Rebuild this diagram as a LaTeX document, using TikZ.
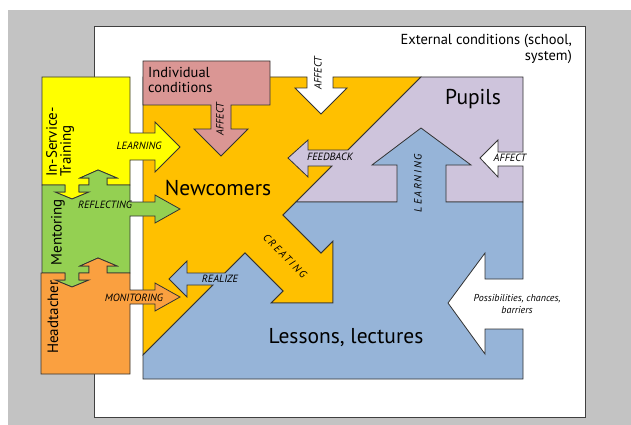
\documentclass[tikz,border=0pt]{standalone}
\usepackage{fontspec}
\setmainfont{PT Sans}
\definecolor{bggray}{RGB}{195,195,195}
\definecolor{newcorange}{RGB}{255,192,0}
\definecolor{indivpink}{RGB}{218,150,148}
\definecolor{pupilpurple}{RGB}{206,196,220}
\definecolor{lessonblue}{RGB}{150,180,216}
\definecolor{trainyellow}{RGB}{255,255,0}
\definecolor{mentorgreen}{RGB}{148,208,82}
\definecolor{headorange}{RGB}{250,160,64}

\begin{document}
\begin{tikzpicture}[x=1pt, y=-1pt,
    region/.style={draw=black!80, line width=0.8pt, line join=miter},
    tag/.style={font=\fontsize{10.5}{12}\selectfont\itshape, inner sep=0pt},
    spaced/.style={font=\fontsize{10.5}{12}\selectfont\itshape\addfontfeatures{LetterSpace=18}, inner sep=0pt},
    title/.style={font=\fontsize{21.5}{25}\selectfont, inner sep=0pt},
    boxtext/.style={font=\fontsize{14.5}{15.5}\selectfont, inner sep=0pt}]

    % Page and frame of external conditions
    \useasboundingbox (0,0) rectangle (631,425);
    \fill[white] (0,0) rectangle (631,425);
    \fill[bggray] (8,10) rectangle (631,425);
    \draw[fill=white, draw=black!75, line width=1pt] (94,27) rectangle (585,417);
    \node[boxtext, anchor=north east, align=right] (external) at (572,34) {External conditions (school,\\system)};

    % Newcomers (with the creating arrow)
    \draw[region, fill=newcorange] (143,77) -- (307,77) -- (307,88) -- (295,88) -- (321,114) -- (347,88) -- (333,88) -- (333,77)
        -- (421,77) -- (283,215) -- (321,253) -- (333,241) -- (333,303) -- (271,303) -- (283,291) -- (245,253) -- (143,355) -- cycle;

    % Pupils (with the feedback arrow)
    \draw[region, fill=pupilpurple] (421,77) -- (523,77) -- (523,152) -- (498,152) -- (498,140) -- (480,158) -- (498,177) -- (498,166)
        -- (523,166) -- (523,202) -- (296,202) -- (332,166) -- (308,166) -- (308,177) -- (288,158) -- (308,140) -- (308,150) -- (348,150) -- cycle;

    % Lessons, lectures (with learning and realize arrows)
    \draw[region, fill=lessonblue] (296,202) -- (397,202) -- (397,165) -- (372,165) -- (421,128) -- (471,165) -- (446,165) -- (446,202)
        -- (523,202) -- (523,279) -- (485,279) -- (485,253) -- (448,303) -- (485,354) -- (485,329) -- (523,329) -- (523,379)
        -- (143,379) -- (143,355) -- (213,285) -- (187,285) -- (187,297) -- (169,279) -- (187,261) -- (187,273) -- (225,273)
        -- (245,253) -- (283,291) -- (271,303) -- (333,303) -- (333,241) -- (321,253) -- (283,215) -- cycle;

    % Individual conditions
    \draw[region, fill=indivpink] (143,61) -- (270,61) -- (270,105) -- (231,105) -- (231,129) -- (248,129) -- (221,156)
        -- (194,129) -- (211,129) -- (211,105) -- (143,105) -- cycle;
    \node[boxtext, anchor=north west, align=left] (indiv) at (148,67) {Individual\\conditions};

    % In-Service-Training
    \draw[region, fill=trainyellow] (42,77) -- (130,77) -- (130,133) -- (155,133) -- (155,122) -- (180,147) -- (155,172) -- (155,160)
        -- (130,160) -- (130,185) -- (107,185) -- (107,178) -- (117,178) -- (98,170) -- (80,178) -- (89,178) -- (89,185)
        -- (79,185) -- (79,192) -- (89,192) -- (72,199) -- (55,192) -- (65,192) -- (65,185) -- (42,185) -- cycle;

    % Mentoring
    \draw[region, fill=mentorgreen] (42,185) -- (65,185) -- (65,192) -- (55,192) -- (72,199) -- (89,192) -- (79,192) -- (79,185)
        -- (89,185) -- (89,178) -- (80,178) -- (98,170) -- (117,178) -- (107,178) -- (107,185) -- (130,185)
        -- (130,202) -- (155,202) -- (155,195) -- (180,209) -- (155,223) -- (155,216) -- (130,216) -- (130,273)
        -- (107,273) -- (107,266) -- (117,266) -- (98,258) -- (80,266) -- (89,266) -- (89,273)
        -- (79,273) -- (79,280) -- (89,280) -- (72,287) -- (55,280) -- (65,280) -- (65,273) -- (42,273) -- cycle;

    % Headtacher
    \draw[region, fill=headorange] (41,273) -- (65,273) -- (65,280) -- (55,280) -- (72,287) -- (89,280) -- (79,280) -- (79,273)
        -- (89,273) -- (89,266) -- (80,266) -- (98,258) -- (117,266) -- (107,266) -- (107,273) -- (130,273)
        -- (130,290) -- (155,290) -- (155,283) -- (180,297) -- (155,311) -- (155,304) -- (130,304) -- (130,374) -- (41,374) -- cycle;

    % Box titles
    \node[boxtext, rotate=90, anchor=west, align=left, font=\fontsize{15}{14}\selectfont] (training) at (60,177) {In-Service-\\Training};
    \node[boxtext, rotate=90, font=\fontsize{15}{16}\selectfont] (mentoring) at (58,232) {Mentoring};
    \node[boxtext, rotate=90, font=\fontsize{15}{16}\selectfont] (headtacher) at (53,317) {Headtacher};
    \node[title, anchor=base] (newcomers) at (218,195) {Newcomers};
    \node[title, anchor=base] (pupils) at (473,105) {Pupils};
    \node[title, anchor=base] (lessons) at (346,343) {Lessons, lectures};

    % Arrow labels
    \node[tag] (learnyellow) at (139,146) {LEARNING};
    \node[tag] (reflecting) at (105,205) {REFLECTING};
    \node[tag] (monitoring) at (134,298) {MONITORING};
    \node[tag] (realize) at (220,279) {REALIZE};
    \node[tag] (feedback) at (330,157) {FEEDBACK};
    \node[tag] (affectright) at (510,158) {AFFECT};
    \node[tag, rotate=90] (affecttop) at (318,73) {AFFECT};
    \node[tag, rotate=90] (affectpink) at (220,119) {AFFECT};
    \node[spaced, rotate=90] (learnblue) at (418,183) {LEARNING};
    \node[spaced, rotate=-45] (creating) at (285,256) {CREATING};
    \node[tag, align=center, font=\fontsize{10}{12}\selectfont\itshape] (chances) at (517,304) {Possibilities, chances,\\barriers};

\end{tikzpicture}
\end{document}
